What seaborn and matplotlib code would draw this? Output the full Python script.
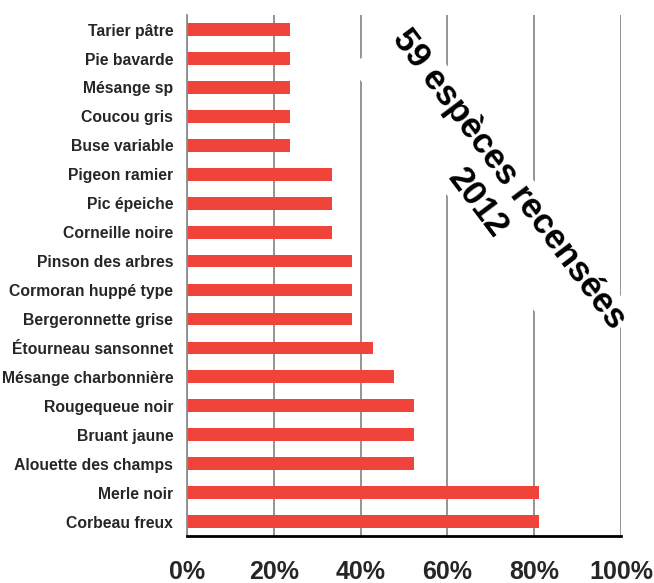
import matplotlib
matplotlib.use("Agg")
import matplotlib.pyplot as plt
import seaborn as sns
import pandas as pd

# ── data (share of visits where the species was seen) ─────────────────────────
species = [
    "Tarier pâtre", "Pie bavarde", "Mésange sp", "Coucou gris", "Buse variable",
    "Pigeon ramier", "Pic épeiche", "Corneille noire", "Pinson des arbres",
    "Cormoran huppé type", "Bergeronnette grise", "Étourneau sansonnet",
    "Mésange charbonnière", "Rougequeue noir", "Bruant jaune",
    "Alouette des champs", "Merle noir", "Corbeau freux",
]
frequency = [
    23.8, 23.8, 23.8, 23.8, 23.8,
    33.3, 33.3, 33.3, 38.1,
    38.1, 38.1, 42.9,
    47.6, 52.4, 52.4,
    52.4, 81.0, 81.0,
]
x_ticks = [0, 20, 40, 60, 80, 100]
x_tick_labels = ["0%", "20%", "40%", "60%", "80%", "100%"]
note = "59 espèces recensées\n2012"

# ── styling ───────────────────────────────────────────────────────────────────
_BAR = "#F0443A"
_GRID = "#8C8C8C"

sns.set_theme(style="white")
plt.rcParams["font.family"] = ["Liberation Sans", "DejaVu Sans"]
plt.rcParams["font.weight"] = "bold"

df = pd.DataFrame({"species": species, "frequency": frequency})

fig = plt.figure(figsize=(6.54, 5.83), dpi=100)
ax = fig.add_axes([0.286, 0.0806, 0.6635, 0.8934])

sns.barplot(data=df, x="frequency", y="species", orient="h",
            color=_BAR, saturation=1, width=0.44, ax=ax, edgecolor="none")

ax.set_xlim(0, 100)
ax.set_xticks(x_ticks)
ax.set_xticklabels(x_tick_labels, fontsize=18, fontweight="bold")
ax.tick_params(axis="x", length=0, pad=17)
ax.tick_params(axis="y", length=0, pad=10, labelsize=11.3)
for lab in ax.get_yticklabels():
    lab.set_fontweight("bold")
ax.set_xlabel("")
ax.set_ylabel("")

ax.grid(axis="x", color=_GRID, linewidth=1.3)
ax.set_axisbelow(True)
for side in ("top", "right"):
    ax.spines[side].set_visible(False)
ax.spines["left"].set_color(_GRID)
ax.spines["left"].set_linewidth(1.3)
ax.spines["bottom"].set_color("black")
ax.spines["bottom"].set_linewidth(2)

ax.text(0.705, 0.662, note, transform=ax.transAxes, rotation=-53,
        rotation_mode="anchor", ha="center", va="center",
        multialignment="center", fontsize=25, fontweight="bold",
        linespacing=1.25, color="black",
        bbox=dict(facecolor="white", edgecolor="none", pad=2))

fig.savefig("out.png", dpi=100)
